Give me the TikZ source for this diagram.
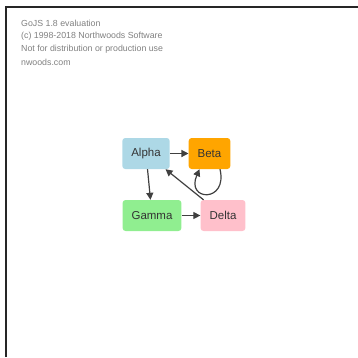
\documentclass[tikz,border=0pt]{standalone}
\usepackage{fontspec}
\setmainfont{Liberation Sans}
\usetikzlibrary{arrows.meta}
\definecolor{alphablue}{RGB}{173,216,230}
\definecolor{betaorange}{RGB}{255,165,0}
\definecolor{gammagreen}{RGB}{144,238,144}
\definecolor{deltapink}{RGB}{255,192,203}
\tikzset{
    vertex/.style={rounded corners=3pt, minimum height=31pt, inner xsep=9pt, text=black!80, font=\fontsize{11.5}{13}\selectfont},
    link/.style={-{Triangle[length=7pt,width=7pt]}, black!75, line width=1.2pt},
    wmark/.style={anchor=west, inner sep=0pt, text=black!50, font=\fontsize{8.8}{10}\selectfont}
}
\begin{document}
\begin{tikzpicture}[x=1pt, y=-1pt]
    \useasboundingbox (0,0) rectangle (358,357);
    \draw[line width=1.5pt, black!85] (6,357) -- (6,7) -- (358,7);

    \path
    node[wmark] (w1) at (21,23.5) {GoJS 1.8 evaluation}
    node[wmark] (w2) at (21,36.5) {(c) 1998-2018 Northwoods Software}
    node[wmark] (w3) at (21,49.5) {Not for distribution or production use}
    node[wmark] (w4) at (21,62) {nwoods.com};

    \path
    node[vertex, fill=alphablue] (alpha) at (146,153.5) {Alpha}
    node[vertex, fill=betaorange] (beta) at (209.5,153.5) {Beta}
    node[vertex, fill=gammagreen] (gamma) at (152,215.5) {Gamma}
    node[vertex, fill=deltapink] (delta) at (223,215.5) {Delta};

    \path
    (alpha) edge[link] (beta)
    (alpha) edge[link] (gamma)
    (gamma) edge[link] (delta)
    (delta) edge[link] (alpha);
    \draw[link] ([xshift=10.5pt]beta.south) .. controls +(8,34) and +(-14,32) .. ([xshift=-10pt]beta.south);
\end{tikzpicture}
\end{document}
